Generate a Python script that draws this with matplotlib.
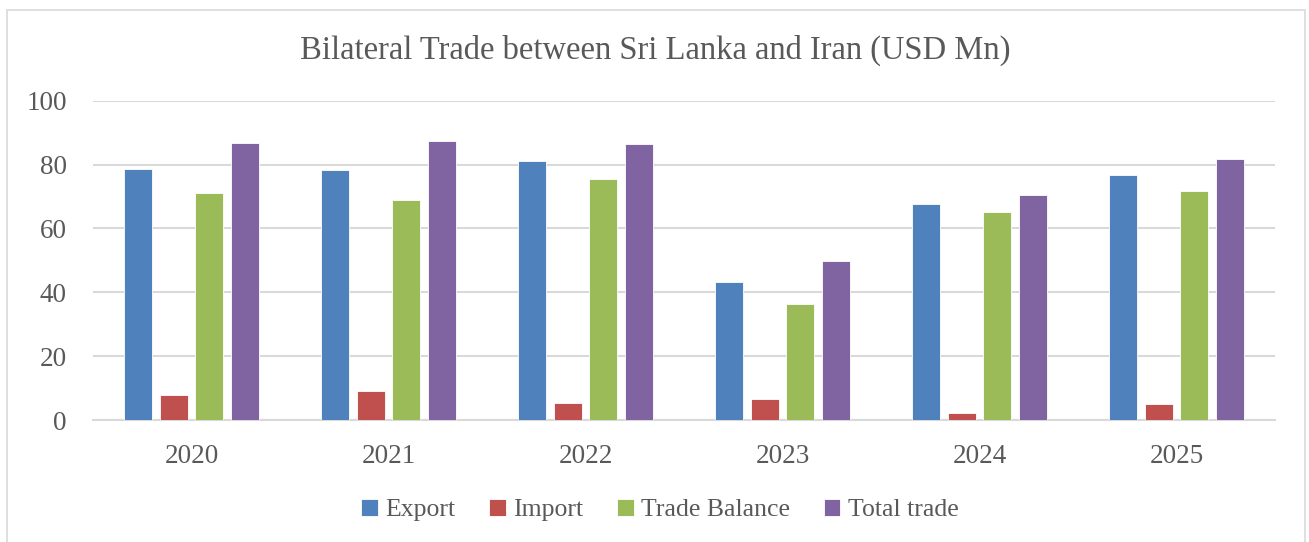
import matplotlib.pyplot as plt
import numpy as np
from matplotlib.patches import Rectangle

years = ['2020', '2021', '2022', '2023', '2024', '2025']
export = [78.7, 78.2, 81.0, 43.1, 67.7, 76.6]
imports = [7.7, 9.0, 5.2, 6.5, 2.3, 5.0]
trade_balance = [71.0, 69.0, 75.6, 36.4, 65.2, 71.7]
total_trade = [86.6, 87.3, 86.3, 49.8, 70.4, 81.7]

series = ['Export', 'Import', 'Trade Balance', 'Total trade']
colors = ['#4f81bd', '#c0504d', '#9bbb59', '#8064a2']


def main():
    plt.rcParams['font.family'] = ['Liberation Serif', 'DejaVu Serif']
    text_color = '#595959'

    fig = plt.figure(figsize=(13.09, 5.42), dpi=100)
    ax = fig.add_axes([93 / 1309, 1 - 420 / 542, 1182 / 1309, (420 - 100.7) / 542])

    x = np.arange(len(years))
    width = 0.143
    step = 0.181
    data = [export, imports, trade_balance, total_trade]
    for i, (vals, name, c) in enumerate(zip(data, series, colors)):
        ax.bar(x + (i - 1.5) * step, vals, width, color=c, label=name,
               edgecolor='white', linewidth=0.6, zorder=3)

    ax.set_xlim(-0.5, len(years) - 0.5)
    ax.set_ylim(0, 100)
    ax.set_yticks(range(0, 101, 20))
    ax.set_xticks(x)
    ax.set_xticklabels(years)
    ax.grid(axis='y', color='#d9d9d9', linewidth=1.5, zorder=0)
    for s in ['top', 'right', 'left']:
        ax.spines[s].set_visible(False)
    ax.spines['bottom'].set_color('#d9d9d9')
    ax.spines['bottom'].set_linewidth(1.5)
    ax.tick_params(length=0, labelsize=19.5, colors=text_color)
    ax.tick_params(axis='y', pad=19)
    ax.tick_params(axis='x', pad=17)

    fig.text(655 / 1309, 1 - 50 / 542, 'Bilateral Trade between Sri Lanka and Iran (USD Mn)',
             ha='center', va='center', fontsize=23.5, color=text_color)

    leg = fig.legend(loc='center', bbox_to_anchor=(660 / 1309, 1 - 510 / 542), ncol=4,
                     frameon=False, fontsize=18.5, handlelength=0.65, handleheight=0.65,
                     handletextpad=0.3, columnspacing=1.3)
    for t in leg.get_texts():
        t.set_color(text_color)

    fig.patches.append(Rectangle((7 / 1309, -0.01), 1298 / 1309, 1 - 10 / 542 + 0.01,
                                 transform=fig.transFigure, fill=False,
                                 edgecolor='#d9d9d9', linewidth=1.2))

    fig.savefig('out.png', dpi=100)


if __name__ == "__main__":
    main()
